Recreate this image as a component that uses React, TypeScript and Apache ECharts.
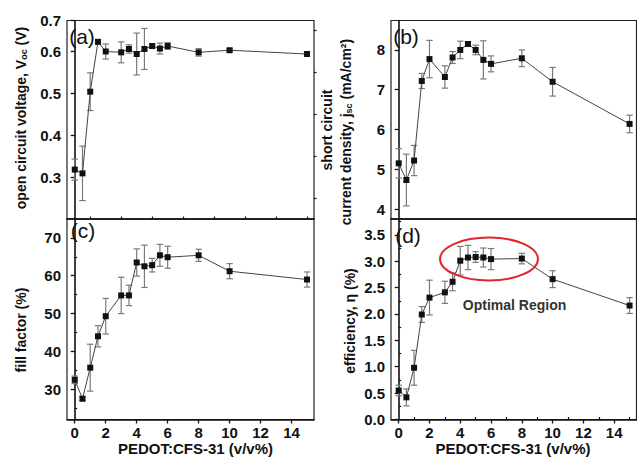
import React, { useEffect, useRef } from "react";
import * as echarts from "echarts";

const xs = [0, 0.5, 1, 1.5, 2, 3, 3.5, 4, 4.5, 5, 5.5, 6, 8, 10, 15];
const voc = [0.318, 0.309, 0.504, 0.623, 0.6, 0.598, 0.606, 0.594, 0.606, 0.613, 0.607, 0.613, 0.598, 0.603, 0.594];
const vocErr = [0.025, 0.065, 0.045, 0.004, 0.018, 0.025, 0.01, 0.05, 0.049, 0.005, 0.013, 0.008, 0.009, 0.004, 0.004];
const jsc = [5.15, 4.73, 5.22, 7.22, 7.77, 7.32, 7.81, 8.0, 8.15, 8.0, 7.75, 7.65, 7.79, 7.2, 6.14];
const jscErr = [0.37, 0.65, 0.38, 0.19, 0.47, 0.28, 0.15, 0.22, 0.06, 0.12, 0.48, 0.2, 0.21, 0.36, 0.22];
const ff = [32.5, 27.5, 35.7, 44.0, 49.3, 54.8, 54.8, 63.5, 62.5, 62.8, 65.4, 64.9, 65.4, 61.2, 59.0];
const ffErr = [1.0, 0.5, 6.2, 2.8, 4.7, 4.8, 2.7, 3.6, 5.6, 1.8, 2.9, 2.9, 1.6, 2.0, 2.0];
const eff = [0.55, 0.42, 0.98, 1.99, 2.31, 2.41, 2.61, 3.01, 3.07, 3.08, 3.07, 3.04, 3.05, 2.66, 2.16];
const effErr = [0.1, 0.16, 0.33, 0.15, 0.33, 0.21, 0.17, 0.27, 0.23, 0.1, 0.18, 0.2, 0.1, 0.16, 0.15];

const xMajor = [0, 2, 4, 6, 8, 10, 12, 14];
const xMinor = [1, 3, 5, 7, 9, 11, 13, 15];

const yMajorA = [0.3, 0.4, 0.5, 0.6, 0.674];
const yMinorA = [0.25, 0.35, 0.45, 0.55, 0.65];
const yMajorB = [4, 5, 6, 7, 8];
const yMinorB = [4.5, 5.5, 6.5, 7.5, 8.5];
const yMajorC = [30, 40, 50, 60, 70];
const yMinorC = [25, 35, 45, 55, 65, 75];
const yMajorD = [0, 0.5, 1, 1.5, 2, 2.5, 3, 3.5];
const yMinorD = [0.25, 0.75, 1.25, 1.75, 2.25, 2.75, 3.25, 3.75];

const FONT = "Arial, Liberation Sans, Helvetica, sans-serif";
const XMIN = -0.5;
const XMAX = 15.45;

export default function App() {
  const ref = useRef<HTMLDivElement>(null);
  useEffect(() => {
    if (!ref.current) return;
    const chart = echarts.init(ref.current, null, { renderer: "svg" });

    const grids = [
      { left: 67, top: 20.5, width: 247, height: 198.5 },
      { left: 391, top: 20.5, width: 245.5, height: 198.5 },
      { left: 67, top: 219, width: 247, height: 200.5 },
      { left: 391, top: 219, width: 245.5, height: 200.5 },
    ].map((g) => ({ ...g, show: true, borderColor: "#222", borderWidth: 1.2, backgroundColor: "transparent" }));

    const axisLine = { show: true, lineStyle: { color: "#111", width: 1.6 } };
    const labelStyle = { fontFamily: FONT, fontWeight: "bold" as const, fontSize: 15, color: "#111" };

    const mainX = (gi: number, labels: boolean) => ({
      type: "value",
      gridIndex: gi,
      min: XMIN,
      max: XMAX,
      axisLine,
      splitLine: { show: false },
      axisTick: labels
        ? { show: true, inside: false, length: 4, customValues: xMajor, lineStyle: { color: "#111", width: 1.3 } }
        : { show: false },
      axisLabel: labels
        ? { show: true, customValues: xMajor, margin: 5, ...labelStyle }
        : { show: false },
    });
    const minorX = (gi: number) => ({
      type: "value",
      gridIndex: gi,
      min: XMIN,
      max: XMAX,
      axisLine: { show: false },
      splitLine: { show: false },
      axisTick: { show: true, inside: false, length: 2.5, customValues: xMinor, lineStyle: { color: "#111", width: 1.2 } },
      axisLabel: { show: false },
    });
    const mainY = (gi: number, min: number, max: number, major: number[], fmt: (v: number) => string) => ({
      type: "value",
      gridIndex: gi,
      min,
      max,
      axisLine,
      splitLine: { show: false },
      axisTick: { show: true, inside: false, length: 4, customValues: major, lineStyle: { color: "#111", width: 1.3 } },
      axisLabel: { show: true, customValues: major, margin: 6, formatter: fmt, ...labelStyle },
    });
    const minorY = (gi: number, min: number, max: number, minor: number[]) => ({
      type: "value",
      gridIndex: gi,
      min,
      max,
      axisLine: { show: false },
      splitLine: { show: false },
      axisTick: { show: true, inside: false, length: 2.5, customValues: minor, lineStyle: { color: "#111", width: 1.2 } },
      axisLabel: { show: false },
    });

    const panels = [
      { vals: voc, errs: vocErr },
      { vals: jsc, errs: jscErr },
      { vals: ff, errs: ffErr },
      { vals: eff, errs: effErr },
    ];

    const series: any[] = [];
    panels.forEach((p, i) => {
      series.push({
        type: "custom",
        xAxisIndex: i,
        yAxisIndex: i,
        data: xs.map((x, k) => [x, p.vals[k] - p.errs[k], p.vals[k] + p.errs[k]]),
        encode: { x: 0, y: [1, 2] },
        renderItem: (params: any, api: any) => {
          const x = api.value(0);
          const lo = api.coord([x, api.value(1)]);
          const hi = api.coord([x, api.value(2)]);
          const style = { stroke: "#7a7a7a", lineWidth: 1.2 };
          const cap = 3.2;
          return {
            type: "group",
            children: [
              { type: "line", shape: { x1: lo[0], y1: lo[1], x2: hi[0], y2: hi[1] }, style },
              { type: "line", shape: { x1: lo[0] - cap, y1: lo[1], x2: lo[0] + cap, y2: lo[1] }, style },
              { type: "line", shape: { x1: hi[0] - cap, y1: hi[1], x2: hi[0] + cap, y2: hi[1] }, style },
            ],
          };
        },
        z: 2,
      });
      series.push({
        type: "line",
        xAxisIndex: i,
        yAxisIndex: i,
        data: xs.map((x, k) => [x, p.vals[k]]),
        symbol: "rect",
        symbolSize: 6,
        itemStyle: { color: "#111" },
        lineStyle: { color: "#444", width: 1 },
        z: 3,
      });
    });

    const f1 = (v: number) => (v > 0.65 ? "0.7" : v.toFixed(1));
    const f0 = (v: number) => String(Math.round(v));

    const titleFont = { fontFamily: FONT, fontWeight: "bold", fontSize: 14, fill: "#111" };
    const xTitleFont = { fontFamily: FONT, fontWeight: "bold", fontSize: 15, fill: "#111" };
    const sub = { fontFamily: FONT, fontWeight: "bold", fontSize: 9, verticalAlign: "bottom", fill: "#111" };
    const main = { fontFamily: FONT, fontWeight: "bold", fontSize: 14, fill: "#111" };
    const letter = { fontFamily: FONT, fontSize: 21, fill: "#111" };

    const option: any = {
      animation: false,
      grid: grids,
      xAxis: [mainX(0, false), mainX(1, false), mainX(2, true), mainX(3, true), minorX(2), minorX(3)],
      yAxis: [
        mainY(0, 0.2, 0.674, yMajorA, f1),
        mainY(1, 3.75, 8.74, yMajorB, f0),
        mainY(2, 22, 75, yMajorC, f0),
        mainY(3, 0, 3.8, yMajorD, (v: number) => v.toFixed(1)),
        minorY(0, 0.2, 0.674, yMinorA),
        minorY(1, 3.75, 8.74, yMinorB),
        minorY(2, 22, 75, yMinorC),
        minorY(3, 0, 3.8, yMinorD),
      ],
      series,
      graphic: [
        { type: "text", x: 82, y: 36, style: { text: "(a)", ...letter, align: "center", verticalAlign: "middle" } },
        { type: "text", x: 406, y: 36.5, style: { text: "(b)", ...letter, align: "center", verticalAlign: "middle" } },
        { type: "text", x: 83, y: 230, style: { text: "(c)", ...letter, align: "center", verticalAlign: "middle" } },
        { type: "text", x: 408, y: 235, style: { text: "(d)", ...letter, align: "center", verticalAlign: "middle" } },
        {
          type: "text",
          x: 21,
          y: 118,
          rotation: Math.PI / 2,
          style: {
            text: "{m|open circuit voltage, V}{s|oc}{m| (V)}",
            rich: { m: main, s: sub },
            align: "center",
            verticalAlign: "middle",
          },
        },
        {
          type: "text",
          x: 327,
          y: 130,
          rotation: Math.PI / 2,
          style: { text: "short circuit", ...titleFont, align: "center", verticalAlign: "middle" },
        },
        {
          type: "text",
          x: 346,
          y: 132,
          rotation: Math.PI / 2,
          style: {
            text: "{m|current density, j}{s|sc}{m| (mA/cm²)}",
            rich: { m: main, s: sub },
            align: "center",
            verticalAlign: "middle",
          },
        },
        {
          type: "text",
          x: 21,
          y: 330,
          rotation: Math.PI / 2,
          style: { text: "fill factor (%)", ...titleFont, align: "center", verticalAlign: "middle" },
        },
        {
          type: "text",
          x: 349.5,
          y: 321,
          rotation: Math.PI / 2,
          style: { text: "efficiency, η (%)", ...titleFont, align: "center", verticalAlign: "middle" },
        },
        { type: "text", x: 195.5, y: 448, style: { text: "PEDOT:CFS-31 (v/v%)", ...xTitleFont, align: "center", verticalAlign: "middle" } },
        { type: "text", x: 513, y: 448, style: { text: "PEDOT:CFS-31 (v/v%)", ...xTitleFont, align: "center", verticalAlign: "middle" } },
        { type: "text", x: 514.5, y: 305, style: { text: "Optimal Region", ...titleFont, fill: "#333", align: "center", verticalAlign: "middle" } },
        {
          type: "ellipse",
          shape: { cx: 489, cy: 259, rx: 49, ry: 21.5 },
          style: { fill: "none", stroke: "#e0262a", lineWidth: 2 },
          z: 10,
        },
      ],
    };
    chart.setOption(option);
    return () => chart.dispose();
  }, []);
  return <div ref={ref} style={{ position: "absolute", left: 0, top: 0, width: 637, height: 465 }} />;
}
